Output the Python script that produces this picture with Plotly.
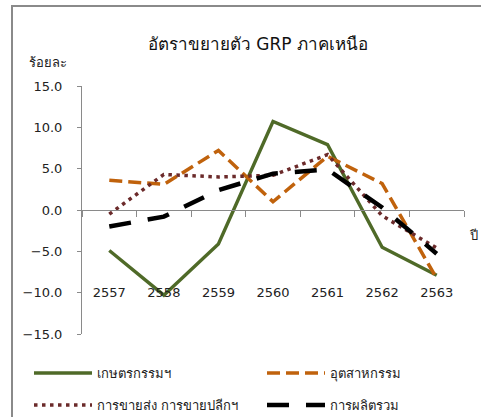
import plotly.graph_objects as go

years = ["2557", "2558", "2559", "2560", "2561", "2562", "2563"]
agri = [-4.9, -10.3, -4.1, 10.7, 7.9, -4.5, -7.9]
industry = [3.6, 3.1, 7.2, 1.0, 6.5, 3.2, -8.3]
trade = [-0.5, 4.3, 4.0, 4.2, 6.7, -0.7, -4.6]
total = [-2.0, -0.8, 2.4, 4.4, 4.9, 0.3, -5.3]

names = ["เกษตรกรรมฯ", "อุตสาหกรรม", "การขายส่ง การขายปลีกฯ", "การผลิตรวม"]
colors = ["#4F6A28", "#C0620C", "#6B2A2A", "#000000"]
dashes = ["solid", "13px,6px", "3.5px,4.5px", "22px,17px"]
widths = [3.4, 3.5, 3.5, 4.5]
legends = ["legend", "legend", "legend2", "legend2"]
series = [agri, industry, trade, total]

FONT = "Tahoma, DejaVu Sans, sans-serif"

fig = go.Figure()
for n, s, c, d, w, lg in zip(names, series, colors, dashes, widths, legends):
    fig.add_trace(go.Scatter(x=years, y=s, name=n, mode="lines", legend=lg,
                             line=dict(color=c, dash=d, width=w)))

W, H = 481, 417
L, R, T, B = 82, 17, 86, 83
PW, PH = W - L - R, H - T - B


def px_x(x):
    return (x - L) / PW


def px_y(y):
    return 1 - (y - T) / PH


leg_common = dict(orientation="h", x=px_x(29), xanchor="left", yanchor="middle",
                  entrywidth=160, entrywidthmode="pixels", itemwidth=58,
                  font=dict(size=13, color="#222"), bgcolor="rgba(0,0,0,0)")

border = dict(color="#8a8a8a", width=2)

fig.update_layout(
    width=W, height=H,
    margin=dict(l=L, r=R, t=T, b=B, autoexpand=False),
    paper_bgcolor="white", plot_bgcolor="white",
    font=dict(family=FONT, size=13, color="#222"),
    title=dict(text="อัตราขยายตัว GRP ภาคเหนือ", x=258 / W, xref="container",
               xanchor="center", y=1 - 44 / H, yref="container", yanchor="middle",
               font=dict(size=17, color="#111")),
    showlegend=True,
    legend=dict(y=px_y(373), **leg_common),
    legend2=dict(y=px_y(405), **leg_common),
    xaxis=dict(type="category", categoryarray=years, range=[-0.5, 6.5],
               anchor="free", position=0.5,
               showline=True, linecolor="#8a8a8a", linewidth=1,
               ticks="outside", tickson="boundaries", ticklen=6, tickcolor="#8a8a8a",
               ticklabelstandoff=70, showgrid=False, zeroline=False,
               tickfont=dict(size=13, color="#222"), fixedrange=True),
    yaxis=dict(range=[-15, 15], dtick=5, tickformat=".1f", showline=True,
               linecolor="#8a8a8a", linewidth=1, ticks="outside", ticklen=4,
               tickcolor="#8a8a8a", showgrid=False, zeroline=False,
               ticklabelstandoff=12,
               tickfont=dict(size=13, color="#222")),
    annotations=[
        dict(text="ร้อยละ", xref="paper", yref="paper", x=px_x(27),
             y=px_y(63), xanchor="left", yanchor="middle",
             showarrow=False, font=dict(size=13, color="#222")),
        dict(text="ปี", xref="paper", yref="paper", x=px_x(467),
             y=px_y(235), xanchor="left", yanchor="middle",
             showarrow=False, font=dict(size=13, color="#222")),
    ],
    shapes=[
        dict(type="line", xref="paper", yref="paper",
             x0=px_x(12), x1=px_x(12), y0=px_y(430), y1=px_y(5), line=border),
        dict(type="line", xref="paper", yref="paper",
             x0=px_x(11), x1=px_x(495), y0=px_y(6), y1=px_y(6), line=border),
    ],
)

fig.write_html("out.html", config={"displayModeBar": False},
               post_script="document.body.style.margin='0';"
               "document.body.style.overflow='hidden';")
